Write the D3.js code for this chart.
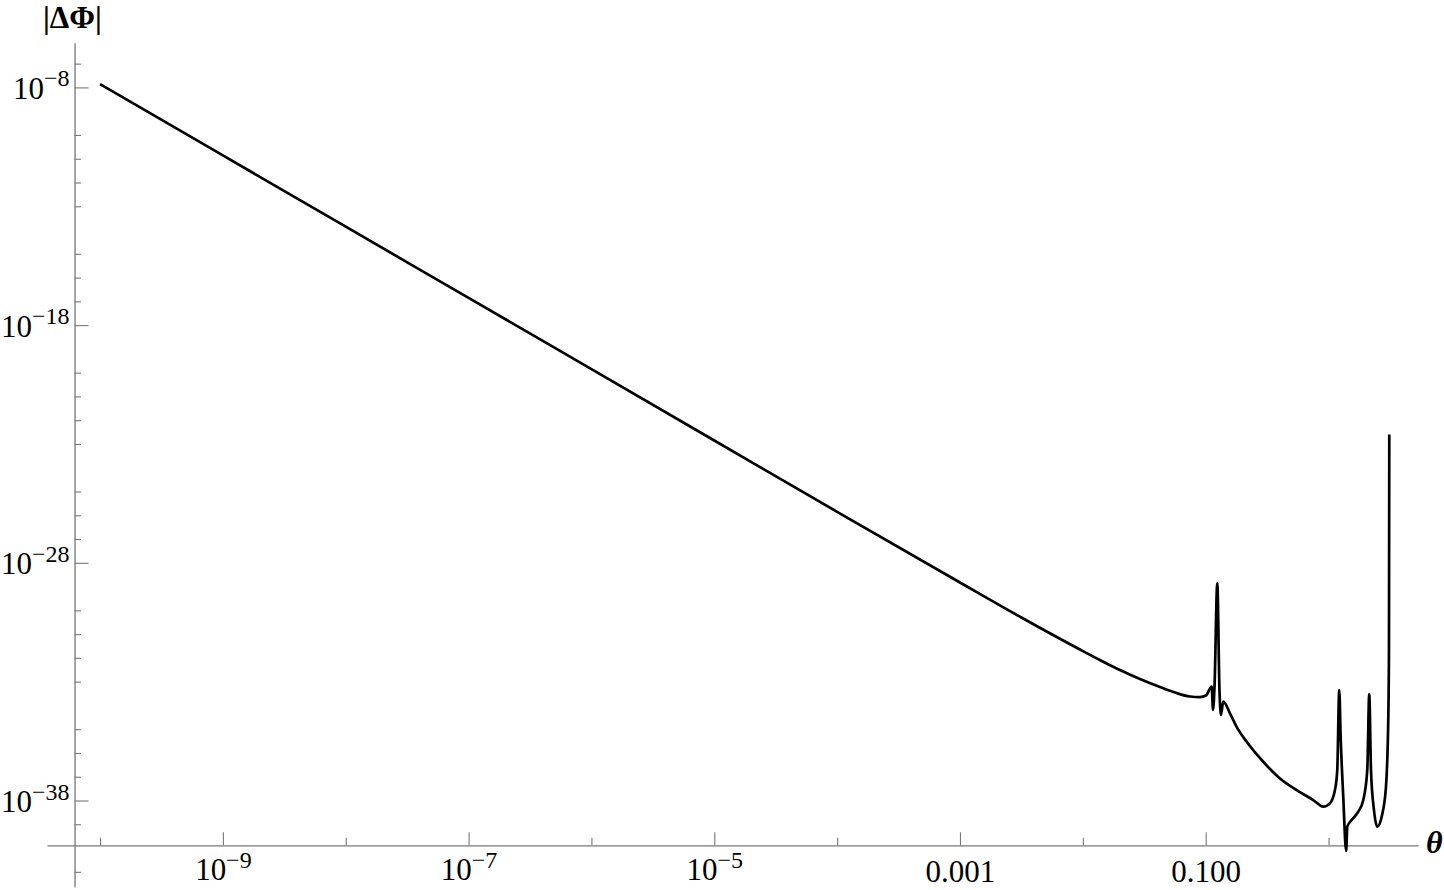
<!DOCTYPE html>
<html>
<head>
<meta charset="utf-8">
<script src="https://cdn.jsdelivr.net/npm/d3@7"></script>
<style>
  body { margin: 0; background: #fff; }
  svg { display: block; }
</style>
</head>
<body>
<svg id="chart"></svg>
<script>
// curve: theta -> |delta phi|
const thetaValues = [
    1e-10, 1e-9, 1e-8, 1e-7, 1e-6, 1e-5, 1e-4, 1e-3, 0.00316, 0.009475,
    0.01378, 0.02005, 0.02917, 0.04245, 0.05622, 0.07447, 0.08983, 0.1005,
    0.1119, 0.1147, 0.1179, 0.1243, 0.1295, 0.1331, 0.1390, 0.1576, 0.1787,
    0.2157, 0.2942, 0.4025, 0.5503, 0.7511, 0.9064, 1.027, 1.128, 1.178,
    1.223, 1.255, 1.318, 1.392, 1.421, 1.543, 1.746, 1.918, 2.067, 2.146,
    2.216, 2.344, 2.493, 2.708, 2.935, 3.064, 3.105, 3.123
];
const deltaPhiValues = [
    1.38e-8, 1.38e-11, 1.38e-14, 1.4e-17, 1.4e-20, 1.4e-23, 1.4e-26, 1.48e-29, 5.0e-31, 2.25e-32,
    8.13e-33, 3.08e-33, 1.29e-33, 5.94e-34, 3.48e-34, 2.37e-34, 2.25e-34, 2.61e-34,
    6.17e-34, 6.46e-35, 5.37e-34, 1.38e-29, 4.47e-34, 3.98e-35, 1.45e-34, 4.68e-35, 1.26e-35,
    2.95e-36, 4.27e-37, 8.51e-38, 2.75e-38, 1.05e-38, 5.50e-39, 7.59e-39, 2.75e-38, 1.91e-37,
    4.47e-34, 4.79e-36, 1.45e-38, 7.59e-41, 7.94e-40, 1.51e-39, 3.39e-39, 1.05e-38, 1.91e-37, 3.02e-34,
    1.91e-37, 3.98e-39, 7.94e-40, 2.09e-39, 3.80e-38, 2.45e-35, 2.14e-32, 2.51e-23
];

// ticks
const xMajorTicks = [1e-9, 1e-7, 1e-5, 1e-3, 0.1];
const xTickLabels = ['10^−9', '10^−7', '10^−5', '0.001', '0.100'];
const xMinorTicks = [1e-10, 1e-8, 1e-6, 1e-4, 1e-2, 1];
const yMajorTicks = [1e-8, 1e-18, 1e-28, 1e-38];
const yTickLabels = ['10^−8', '10^−18', '10^−28', '10^−38'];
const yMinorTicks = [1e-7, 1e-10, 1e-11, 1e-12, 1e-13, 1e-15, 1e-16, 1e-17,
    1e-20, 1e-21, 1e-22, 1e-23, 1e-25, 1e-26, 1e-27, 1e-30, 1e-31, 1e-32, 1e-33,
    1e-35, 1e-36, 1e-37, 1e-39, 1e-41];

// plot range and where the axes cross
const xRange = [3.7e-11, 5.35];
const yRange = [7.6e-7, 2.3e-42];
const axisCrossTheta = 6.2e-11;
const axisCrossPhi = 1.3e-40;

function drawChart() {
    const width = 1444;
    const height = 890;
    const axisColor = '#777';
    const font = '"Liberation Serif", "Times New Roman", serif';

    const svg = d3.select('#chart')
                  .attr('width', width)
                  .attr('height', height);

    const xScale = d3.scaleLog().domain(xRange).range([47, 1418]);
    const yScale = d3.scaleLog().domain(yRange).range([42.7, 887]);

    const xAxisY = yScale(axisCrossPhi);
    const yAxisX = xScale(axisCrossTheta);

    // writes "10^−9" as 10 with a raised exponent
    function powerLabel(sel, labels) {
        sel.each(function(d, i) {
            const t = d3.select(this);
            const parts = labels[i].split('^');
            t.text(parts[0]);
            if (parts.length > 1) {
                t.append('tspan')
                 .attr('dy', -12.5)
                 .attr('font-size', 24)
                 .text(parts[1]);
            }
        });
    }

    // X axis, ticks point up into the plot
    const xAxis = svg.append('g')
       .attr('transform', `translate(0,${xAxisY})`)
       .attr('color', axisColor)
       .call(d3.axisBottom(xScale)
           .tickValues(xMajorTicks)
           .tickSizeInner(-13)
           .tickSizeOuter(0)
           .tickPadding(0))
       .attr('font-family', font)   // after the call, the axis sets its own
       .attr('font-size', 31);
    xAxis.select('.domain').attr('stroke-width', 1.3);
    xAxis.selectAll('line').attr('stroke-width', 1.1);
    xAxis.selectAll('text')
       .attr('dy', null)
       .attr('y', (d, i) => xTickLabels[i].includes('^') ? 34.7 : 36.5)
       .attr('fill', '#000')
       .call(powerLabel, xTickLabels);

    svg.append('g')
       .attr('transform', `translate(0,${xAxisY})`)
       .attr('color', axisColor)
       .call(d3.axisBottom(xScale)
           .tickValues(xMinorTicks)
           .tickSizeInner(-7.7)
           .tickSizeOuter(0)
           .tickFormat(''))
       .call(g => g.select('.domain').remove())
       .selectAll('line').attr('stroke-width', 1.1);

    // Y axis, ticks point right into the plot
    const yAxis = svg.append('g')
       .attr('transform', `translate(${yAxisX},0)`)
       .attr('color', axisColor)
       .call(d3.axisLeft(yScale)
           .tickValues(yMajorTicks)
           .tickSizeInner(-14)
           .tickSizeOuter(0)
           .tickPadding(5))
       .attr('font-family', font)
       .attr('font-size', 31);
    yAxis.select('.domain').attr('stroke-width', 1.3);
    yAxis.selectAll('line').attr('stroke-width', 1.1);
    yAxis.selectAll('text')
       .attr('dy', null)
       .attr('y', 11)
       .attr('fill', '#000')
       .call(powerLabel, yTickLabels);

    svg.append('g')
       .attr('transform', `translate(${yAxisX},0)`)
       .attr('color', axisColor)
       .call(d3.axisLeft(yScale)
           .tickValues(yMinorTicks)
           .tickSizeInner(-6.5)
           .tickSizeOuter(0)
           .tickFormat(''))
       .call(g => g.select('.domain').remove())
       .selectAll('line').attr('stroke-width', 1.1);

    // axis labels
    svg.append('text')
       .attr('x', 43)
       .attr('y', 28)
       .attr('font-family', font)
       .attr('font-size', 31)
       .attr('font-weight', 'bold')
       .text('|ΔΦ|');

    svg.append('text')
       .attr('x', 1426)
       .attr('y', 853)
       .attr('font-family', font)
       .attr('font-size', 32)
       .attr('font-weight', 'bold')
       .attr('font-style', 'italic')
       .text('θ');

    // the curve
    const points = thetaValues.map((t, i) => ({ theta: t, phi: deltaPhiValues[i] }));
    const line = d3.line()
                   .x(d => xScale(d.theta))
                   .y(d => yScale(d.phi))
                   .curve(d3.curveMonotoneX);

    svg.append('path')
       .datum(points)
       .attr('fill', 'none')
       .attr('stroke', '#000')
       .attr('stroke-width', 2.7)
       .attr('stroke-linejoin', 'round')
       .attr('d', line);
}

document.addEventListener('DOMContentLoaded', drawChart);
</script>
</body>
</html>
